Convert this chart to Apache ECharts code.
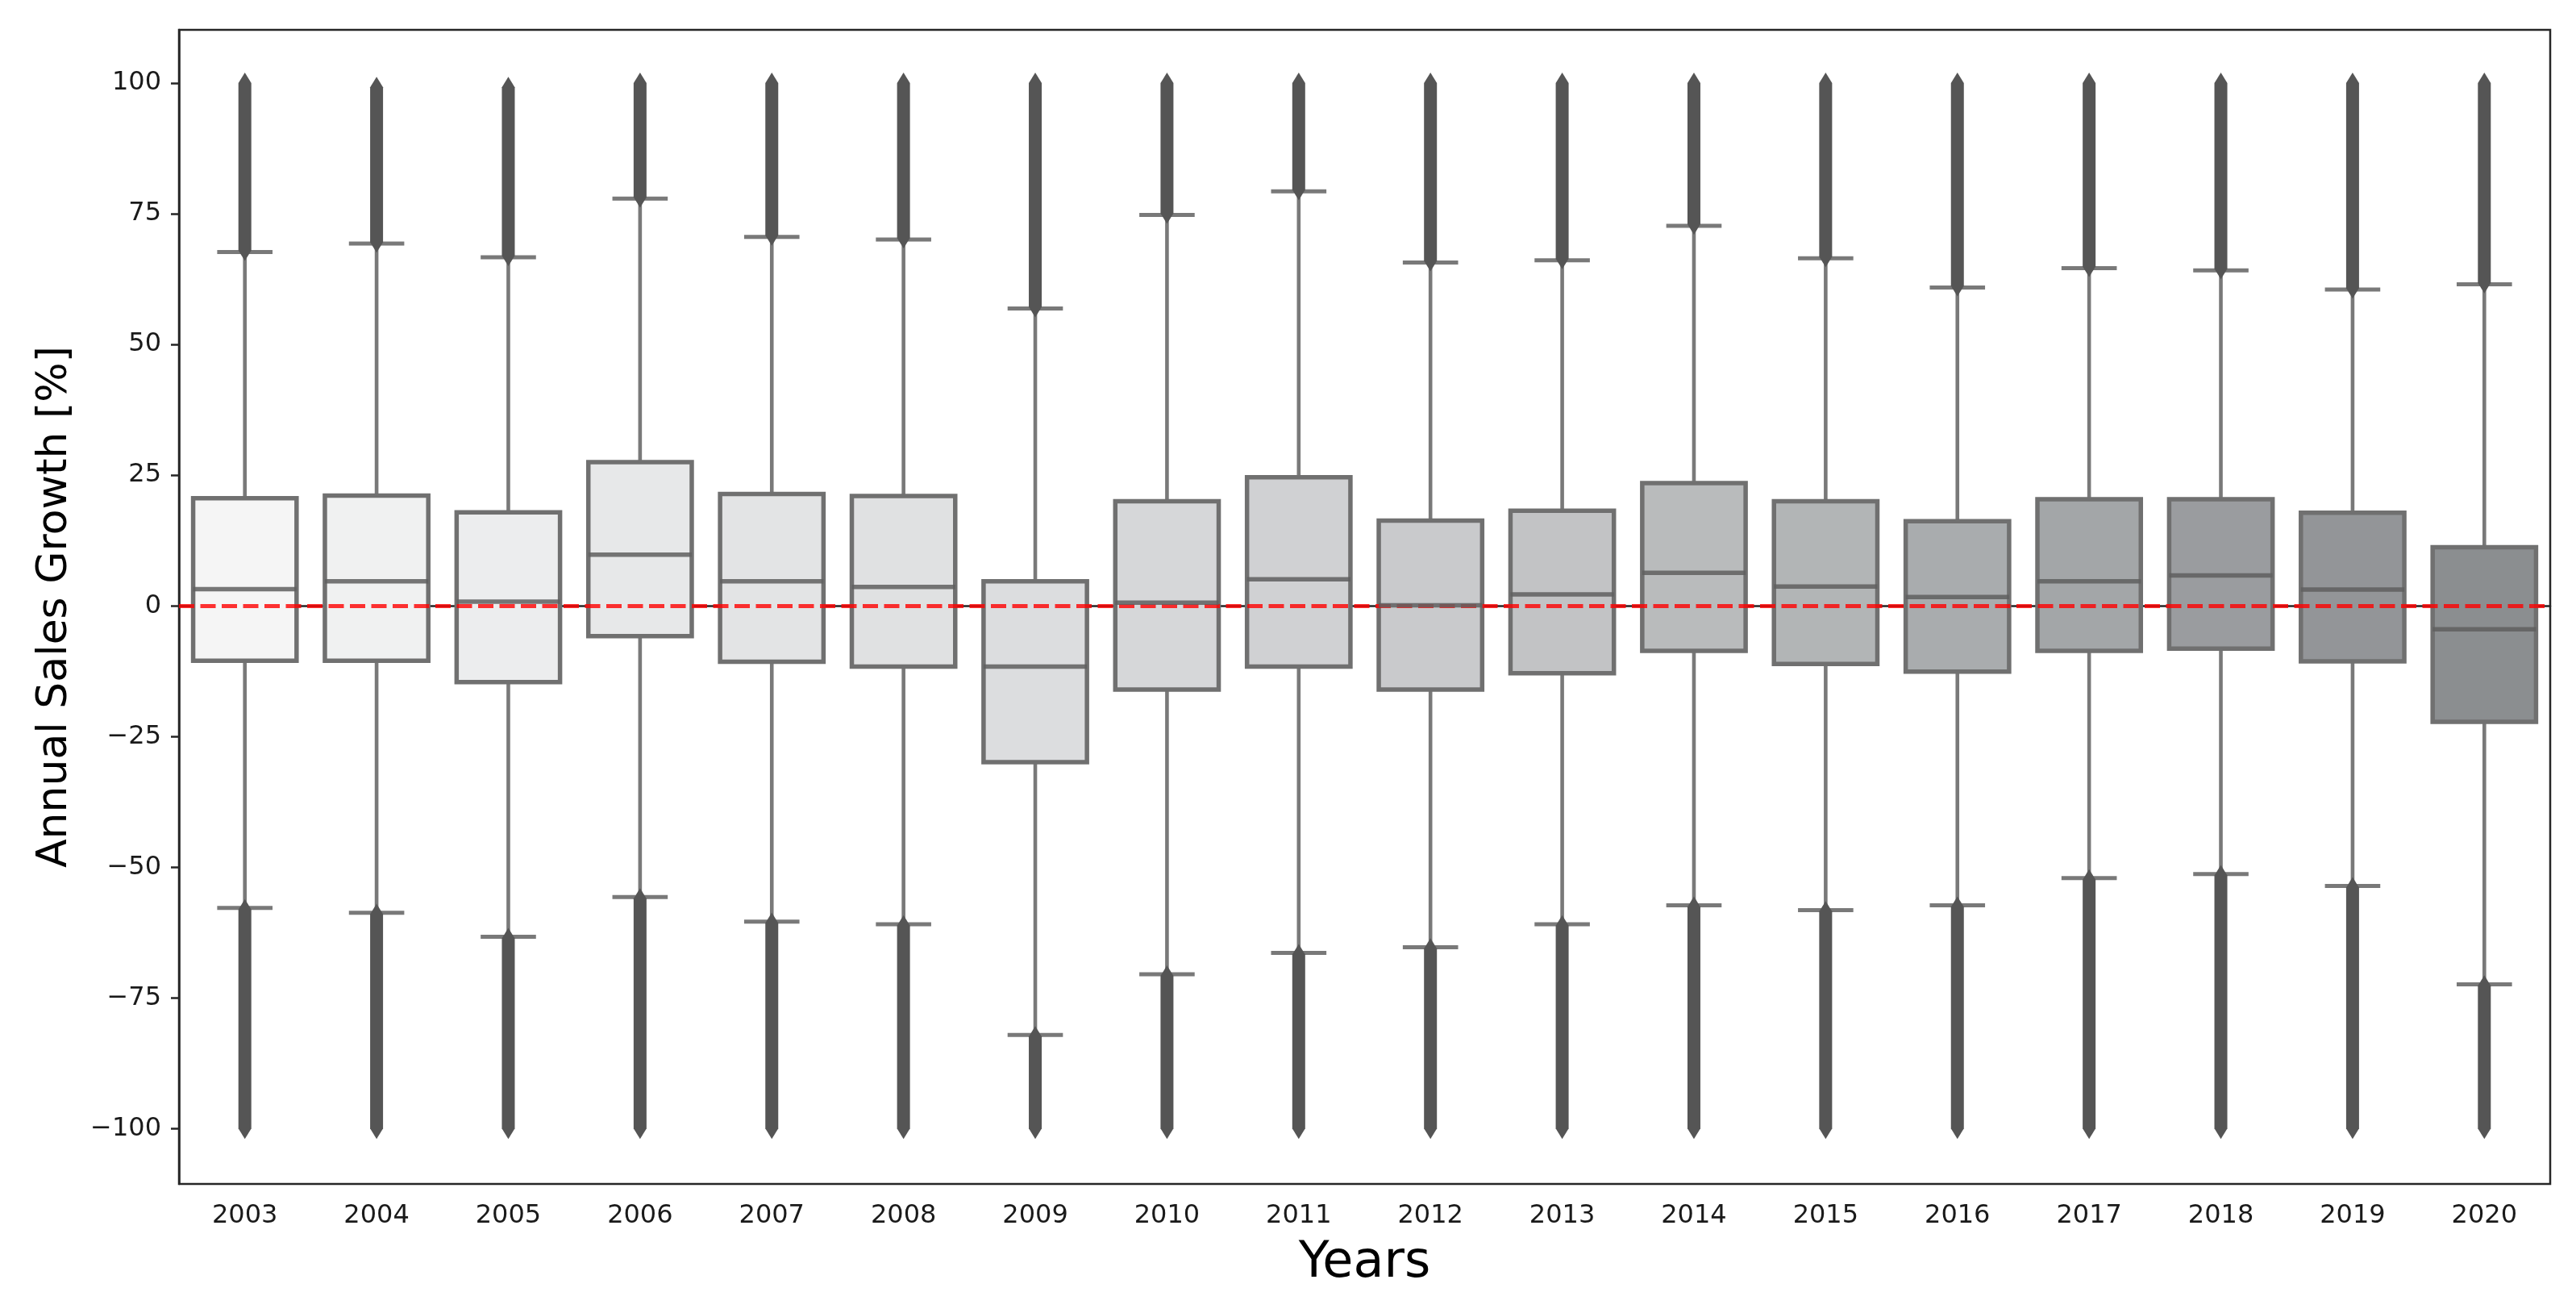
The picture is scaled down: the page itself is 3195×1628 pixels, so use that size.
<!DOCTYPE html>
<html>
<head>
<meta charset="utf-8">
<script src="https://cdn.jsdelivr.net/npm/echarts@6/dist/echarts.min.js"></script>
<style>
  html, body { margin: 0; padding: 0; background: #ffffff; }
  #chart { width: 3195px; height: 1628px; }
</style>
</head>
<body>
<div id="chart"></div>
<script>
// ---- data ----
const years = ['2003','2004','2005','2006','2007','2008','2009','2010','2011','2012','2013','2014','2015','2016','2017','2018','2019','2020'];
const q1          = [-10.5, -10.5, -14.6, -5.8, -10.7, -11.6, -29.9, -16.0, -11.6, -16.0, -12.9, -8.6, -11.1, -12.6, -8.6, -8.2, -10.6, -22.2];
const median      = [3.2, 4.7, 0.8, 9.8, 4.7, 3.6, -11.6, 0.6, 5.1, 0.1, 2.2, 6.3, 3.7, 1.7, 4.7, 5.8, 3.1, -4.5];
const q3          = [20.6, 21.1, 17.9, 27.5, 21.4, 21.0, 4.7, 20.0, 24.6, 16.3, 18.2, 23.5, 20.0, 16.2, 20.4, 20.4, 17.8, 11.2];
const whiskerLow  = [-57.8, -58.7, -63.3, -55.7, -60.4, -60.9, -82.1, -70.5, -66.4, -65.3, -60.9, -57.3, -58.2, -57.3, -52.1, -51.3, -53.6, -72.4];
const whiskerHigh = [67.7, 69.3, 66.7, 77.9, 70.6, 70.1, 56.9, 74.8, 79.3, 65.7, 66.1, 72.7, 66.5, 60.9, 64.6, 64.2, 60.5, 61.5];
// outlier clusters (dense, drawn as continuous columns of diamond markers)
const upperOutlierFrom = [68.0, 69.6, 67.0, 78.2, 70.9, 70.4, 57.2, 75.1, 79.6, 66.0, 66.4, 73.0, 66.8, 61.2, 64.9, 64.5, 60.8, 61.8];
const upperOutlierTo   = [100, 99.2, 99.2, 100, 100, 100, 100, 100, 100, 100, 100, 100, 100, 100, 100, 100, 100, 100];
const lowerOutlierFrom = [-58.1, -59.0, -63.6, -56.0, -60.7, -61.2, -82.4, -70.8, -66.7, -65.6, -61.2, -57.6, -58.5, -57.6, -52.4, -51.6, -53.9, -72.7];
const lowerOutlierTo   = [-100, -100, -100, -100, -100, -100, -100, -100, -100, -100, -100, -100, -100, -100, -100, -100, -100, -100];
const yTicks = [-100, -75, -50, -25, 0, 25, 50, 75, 100];
const boxColors = ['#f5f5f5','#f0f1f1','#ecedee','#e7e8e9','#e3e4e5','#e0e1e2','#dcdddf','#d6d7d9','#d0d1d3','#c9cacc','#c2c3c5','#b9bbbc','#b2b5b6','#a9acae','#a3a6a8','#9a9c9f','#939598','#8b8e90'];
const refLine = 0;

// ---- styles ----
const FONT = 'DejaVu Sans';
const EDGE = '#707070';
const WHISK = '#797979';
const FLIER = '#555555';

const boxData = years.map((y, i) => [i, q1[i], median[i], q3[i], whiskerLow[i], whiskerHigh[i]]);
const medData = years.map((y, i) => [i, median[i]]);
const flierData = [];
years.forEach((y, i) => {
  flierData.push([i, upperOutlierFrom[i], upperOutlierTo[i]]);
  flierData.push([i, lowerOutlierTo[i], lowerOutlierFrom[i]]);
});

function renderBox(params, api) {
  const i = api.value(0);
  const band = api.size([1, 0])[0];
  const boxW = band * 0.785;
  const capW = band * 0.42;
  const pQ1 = api.coord([i, api.value(1)]);
  const pQ3 = api.coord([i, api.value(3)]);
  const pLo = api.coord([i, api.value(4)]);
  const pHi = api.coord([i, api.value(5)]);
  const cx = pQ1[0];
  const wl = { stroke: WHISK, lineWidth: 4.6 };
  return {
    type: 'group',
    children: [
      { type: 'line', shape: { x1: cx, y1: pQ3[1], x2: cx, y2: pHi[1] }, style: wl },
      { type: 'line', shape: { x1: cx, y1: pQ1[1], x2: cx, y2: pLo[1] }, style: wl },
      { type: 'line', shape: { x1: cx - capW / 2, y1: pHi[1], x2: cx + capW / 2, y2: pHi[1] }, style: { stroke: WHISK, lineWidth: 5 } },
      { type: 'line', shape: { x1: cx - capW / 2, y1: pLo[1], x2: cx + capW / 2, y2: pLo[1] }, style: { stroke: WHISK, lineWidth: 5 } },
      { type: 'rect', shape: { x: cx - boxW / 2, y: pQ3[1], width: boxW, height: pQ1[1] - pQ3[1] },
        style: { fill: boxColors[i], stroke: EDGE, lineWidth: 5.5 } }
    ]
  };
}

function renderMedian(params, api) {
  const i = api.value(0);
  const band = api.size([1, 0])[0];
  const boxW = band * 0.785;
  const p = api.coord([i, api.value(1)]);
  return { type: 'line', shape: { x1: p[0] - boxW / 2, y1: p[1], x2: p[0] + boxW / 2, y2: p[1] },
    style: { stroke: 'rgba(95,95,95,0.85)', lineWidth: 5.5 } };
}

function renderFlier(params, api) {
  const i = api.value(0);
  const a = api.coord([i, api.value(1)]);
  const b = api.coord([i, api.value(2)]);
  const cx = a[0];
  const yTop = Math.min(a[1], b[1]);
  const yBot = Math.max(a[1], b[1]);
  const w = 16, h = 13;
  return {
    type: 'polygon',
    shape: { points: [[cx, yTop - h], [cx + w / 2, yTop], [cx + w / 2, yBot], [cx, yBot + h], [cx - w / 2, yBot], [cx - w / 2, yTop]] },
    style: { fill: FLIER }
  };
}

const chart = echarts.init(document.getElementById('chart'), null, { renderer: 'canvas' });
chart.setOption({
  animation: false,
  backgroundColor: '#ffffff',
  textStyle: { fontFamily: FONT },
  grid: { left: 222, right: 32, top: 37, bottom: 160, show: true, borderColor: '#262626', borderWidth: 2.5, backgroundColor: 'transparent' },
  xAxis: {
    type: 'category',
    data: years,
    boundaryGap: true,
    name: 'Years',
    nameLocation: 'middle',
    nameGap: 68,
    nameTextStyle: { fontFamily: FONT, fontSize: 62, color: '#000000' },
    axisLine: { lineStyle: { color: '#262626', width: 2.5 } },
    axisTick: { alignWithLabel: true, length: 10, lineStyle: { color: '#262626', width: 2.5 } },
    axisLabel: { fontFamily: FONT, fontSize: 32, color: '#1a1a1a', margin: 24 },
    splitLine: { show: false }
  },
  yAxis: {
    type: 'value',
    min: -110.6,
    max: 110.2,
    name: 'Annual Sales Growth [%]',
    nameLocation: 'middle',
    nameGap: 128,
    nameRotate: 90,
    nameTextStyle: { fontFamily: FONT, fontSize: 52, color: '#000000' },
    axisLine: { show: true, lineStyle: { color: '#262626', width: 2.5 } },
    axisTick: { show: true, length: 10, customValues: yTicks, lineStyle: { color: '#262626', width: 2.5 } },
    axisLabel: { fontFamily: FONT, fontSize: 32, color: '#1a1a1a', margin: 22, customValues: yTicks,
      formatter: v => (v < 0 ? '\u2212' + Math.abs(v) : String(v)) },
    splitLine: { show: false }
  },
  series: [
    { type: 'custom', name: 'boxes', renderItem: renderBox, data: boxData, encode: { x: 0, y: [1, 2, 3, 4, 5] }, z: 2, silent: true, clip: true },
    { type: 'custom', name: 'outliers', renderItem: renderFlier, data: flierData, encode: { x: 0, y: [1, 2] }, z: 3, silent: true },
    { type: 'line', name: 'zero', data: [], z: 4, silent: true,
      markLine: { silent: true, symbol: ['none', 'none'], label: { show: false },
        lineStyle: { color: 'rgba(255,0,0,0.8)', width: 5, type: [19, 7.5] },
        data: [{ yAxis: refLine }] } },
    { type: 'custom', name: 'medians', renderItem: renderMedian, data: medData, encode: { x: 0, y: 1 }, z: 5, silent: true }
  ]
});
</script>
</body>
</html>
